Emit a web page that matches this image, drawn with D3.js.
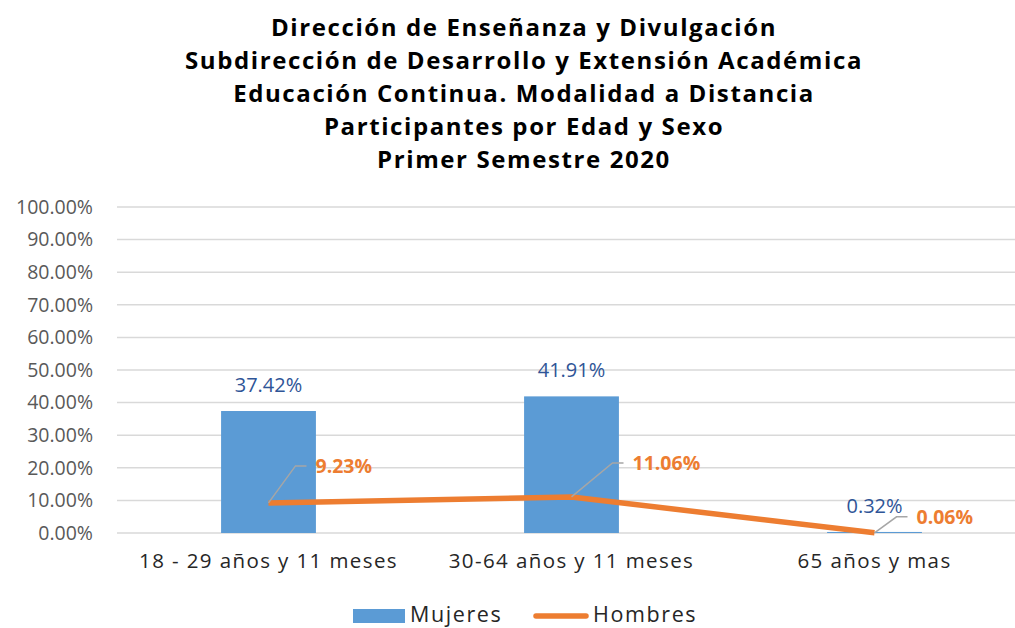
<!DOCTYPE html>
<html><head><meta charset="utf-8">
<script src="https://cdn.jsdelivr.net/npm/d3@7"></script>
<style>
body{margin:0;background:#fff;}
svg{display:block;}
</style></head>
<body>
<svg id="c" width="1015" height="628"></svg>
<script>
const titleLines = ["Dirección de Enseñanza y Divulgación","Subdirección de Desarrollo y Extensión Académica","Educación Continua. Modalidad a Distancia","Participantes por Edad y Sexo","Primer Semestre 2020"];
const categories = ["18 - 29 años y 11 meses","30-64 años y 11 meses","65 años y mas"];
const mujeres = [0.3742, 0.4191, 0.0032];
const hombres = [0.0923, 0.1106, 0.0006];
const yTicks = [0,0.1,0.2,0.3,0.4,0.5,0.6,0.7,0.8,0.9,1.0];
const seriesNames = ["Mujeres","Hombres"];

const svg = d3.select("#c");
const blue = "#5B9BD5", orange = "#ED7D31";
const x = d3.scaleBand().domain(categories).range([117, 1026]).padding(0);
const y = d3.scaleLinear().domain([0,1]).range([533, 207]);
const fmt = d3.format(".2%");

// title
svg.append("g").selectAll("text").data(titleLines).join("text")
  .attr("x", 524).attr("y", (d,i)=>36+i*33)
  .attr("text-anchor","middle")
  .attr("font-family","'Open Sans', sans-serif").attr("font-weight",700)
  .attr("font-size",24).attr("letter-spacing",1.6).attr("fill","#000").text(d=>d);

// grid
svg.append("g").selectAll("line").data(yTicks).join("line")
  .attr("x1",117).attr("x2",1015).attr("y1",d=>y(d)).attr("y2",d=>y(d))
  .attr("stroke","#d9d9d9").attr("stroke-width",1.5);

// y axis
const ya = svg.append("g").attr("transform","translate(117,0)")
  .call(d3.axisLeft(y).tickValues(yTicks).tickFormat(fmt).tickSize(0).tickPadding(24));
ya.select(".domain").remove();
ya.selectAll("text").attr("font-family","'Open Sans', sans-serif").attr("font-size",19.5).attr("fill","#595959");

// x axis labels
const xa = svg.append("g").attr("transform","translate(0,533)")
  .call(d3.axisBottom(x).tickSize(0).tickPadding(20));
xa.select(".domain").remove();
xa.selectAll("text").attr("font-family","'Open Sans', sans-serif").attr("font-size",20.5)
  .attr("letter-spacing",1.4).attr("fill","#262626");

// bars
const bw = x.bandwidth()*0.313;
const cx = c => x(c)+x.bandwidth()/2;
svg.append("g").selectAll("rect").data(categories).join("rect")
  .attr("x",c=>cx(c)-bw/2).attr("width",bw)
  .attr("y",(c,i)=>y(mujeres[i])).attr("height",(c,i)=>y(0)-y(mujeres[i]))
  .attr("fill",blue);

// bar labels
svg.append("g").selectAll("text").data(categories).join("text")
  .attr("x",c=>cx(c)).attr("y",(c,i)=>y(mujeres[i])-19)
  .attr("text-anchor","middle")
  .attr("font-family","'Open Sans', sans-serif").attr("font-size",20).attr("fill","#2F5597")
  .text((c,i)=>fmt(mujeres[i]));

// line
const line = d3.line().x((d,i)=>cx(categories[i])).y(d=>y(d));
svg.append("path").datum(hombres).attr("d",line)
  .attr("fill","none").attr("stroke",orange).attr("stroke-width",5.5).attr("stroke-linejoin","round");

// leader lines + labels
const leaders = [{dx:27,dy:-37,h:11},{dx:41,dy:-34,h:11},{dx:22,dy:-16,h:11}];
const lg = svg.append("g");
hombres.forEach((v,i)=>{
  const px = cx(categories[i]), py = y(v), L = leaders[i];
  lg.append("polyline")
    .attr("points",`${px},${py} ${px+L.dx},${py+L.dy} ${px+L.dx+L.h},${py+L.dy}`)
    .attr("fill","none").attr("stroke","#a6a6a6").attr("stroke-width",1.5);
  lg.append("text").attr("x",px+L.dx+L.h+9).attr("y",py+L.dy+7)
    .attr("font-family","'Open Sans', sans-serif").attr("font-weight",700)
    .attr("font-size",19.5).attr("fill",orange).text(fmt(v));
});

// legend
const leg = svg.append("g");
leg.append("rect").attr("x",353).attr("y",609).attr("width",52).attr("height",14).attr("fill",blue);
leg.append("text").attr("x",410).attr("y",622).attr("font-family","'Open Sans', sans-serif")
  .attr("font-size",21.5).attr("letter-spacing",1.6).attr("fill","#262626").text(seriesNames[0]);
leg.append("line").attr("x1",536).attr("x2",586).attr("y1",616).attr("y2",616)
  .attr("stroke",orange).attr("stroke-width",5.5).attr("stroke-linecap","round");
leg.append("text").attr("x",593).attr("y",622).attr("font-family","'Open Sans', sans-serif")
  .attr("font-size",21.5).attr("letter-spacing",1.6).attr("fill","#262626").text(seriesNames[1]);
</script>
</body></html>
